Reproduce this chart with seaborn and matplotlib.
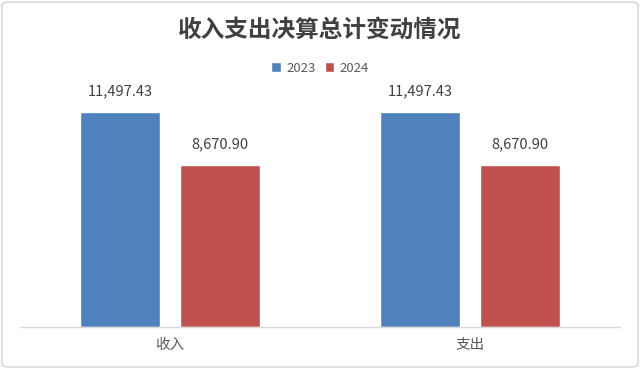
import matplotlib
matplotlib.use("Agg")
import matplotlib.pyplot as plt
from matplotlib.patches import FancyBboxPatch
import seaborn as sns
import pandas as pd

categories = ["收入", "支出"]
years = ["2023", "2024"]
values_2023 = [11497.43, 11497.43]
values_2024 = [8670.90, 8670.90]

sns.set_style("white")
plt.rcParams['font.family'] = ['Noto Sans CJK SC', 'DejaVu Sans']

df = pd.DataFrame({
    'cat': categories * 2,
    'year': [years[0]] * len(categories) + [years[1]] * len(categories),
    'value': values_2023 + values_2024,
})

fig = plt.figure(figsize=(6.4, 3.69), dpi=100)
ax = fig.add_axes([20 / 640, 42 / 369, 600 / 640, 242 / 369])

sns.barplot(data=df, x='cat', y='value', hue='year', order=categories,
            hue_order=years, palette=['#4F81BD', '#C0504D'],
            width=0.667, gap=0.2, saturation=1, ax=ax, legend=True)

for cont in ax.containers:
    ax.bar_label(cont, labels=[f"{v:,.2f}" for v in cont.datavalues],
                 padding=10, fontsize=10.5, color='#404040')

ax.set_ylim(0, 12950)
ax.set_xlim(-0.5, 1.5)
ax.set_yticks([])
ax.set_xlabel('')
ax.set_ylabel('')
for s in ['top', 'left', 'right']:
    ax.spines[s].set_visible(False)
ax.spines['bottom'].set_color('#d9d9d9')
ax.spines['bottom'].set_linewidth(1.0)
ax.tick_params(axis='x', length=0, labelsize=10.5, labelcolor='#595959', pad=8)

handles, labels = ax.get_legend_handles_labels()
ax.legend(handles, labels, loc='center', bbox_to_anchor=(0.5, 1 - 68 / 369),
          bbox_transform=fig.transFigure, ncol=2, frameon=False,
          handlelength=0.7, handleheight=0.7, handletextpad=0.4,
          columnspacing=0.7, fontsize=9.5, labelcolor='#595959')

fig.text(0.5, 1 - 30 / 369, "收入支出决算总计变动情况", ha='center', va='center',
         fontsize=17, fontweight='bold', color='#404040')

fig.patches.append(FancyBboxPatch((2 / 640, 2 / 369), 636 / 640, 365 / 369,
                                  boxstyle="round,pad=0,rounding_size=0.01",
                                  transform=fig.transFigure, fill=False,
                                  edgecolor='#d0d0d0', linewidth=1.0))

fig.savefig("out.png", dpi=100)
